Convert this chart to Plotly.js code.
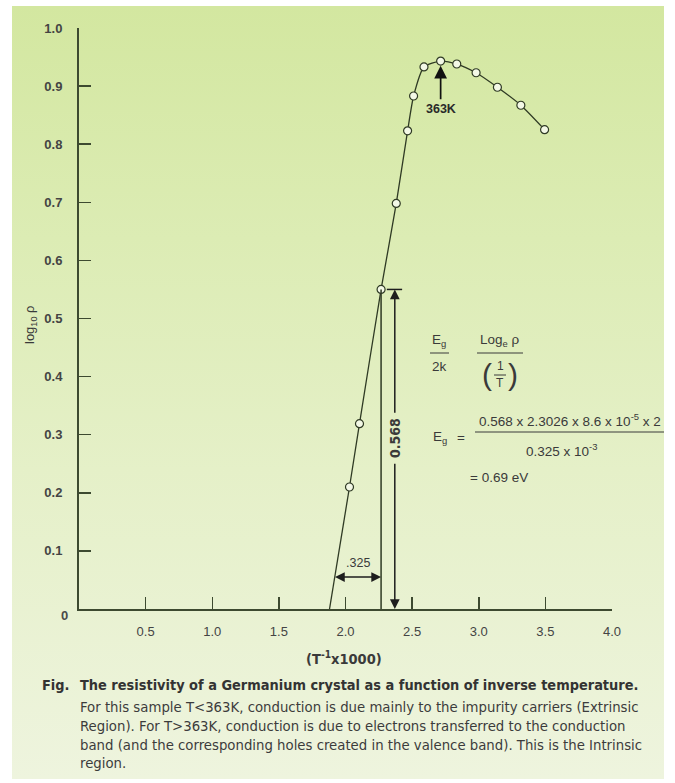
<!DOCTYPE html>
<html><head><meta charset="utf-8">
<script src="https://cdn.plot.ly/plotly-3.0.1.min.js"></script>
<style>
html,body{margin:0;padding:0;background:#fff;}
#wrap{position:relative;width:675px;height:783px;overflow:hidden;}
#bg{position:absolute;left:12px;top:6px;width:652px;height:773px;background:linear-gradient(to bottom,#d3e7a0 0%,#dcecb4 30%,#e5f0c8 60%,#eef4de 100%);}
#chart{position:absolute;left:0;top:0;width:675px;height:783px;}
#crop{position:absolute;left:664px;top:0;width:11px;height:783px;background:#fff;}
</style></head>
<body><div id="wrap"><div id="bg"></div><div id="chart"></div><div id="crop"></div></div>
<script>
// ---- data ----
const invT   = [2.03, 2.105, 2.267, 2.381, 2.466, 2.511, 2.589, 2.714, 2.835, 2.98, 3.14, 3.316, 3.494];
const logRho = [0.21, 0.319, 0.550, 0.698, 0.823, 0.883, 0.933, 0.943, 0.938, 0.923, 0.898, 0.867, 0.825];
const fitExtX = [1.88, 2.03];
const fitExtY = [0.0, 0.21];
const xTickVals = [0.5, 1.0, 1.5, 2.0, 2.5, 3.0, 3.5, 4.0];
const xTickText = ['0.5','1.0','1.5','2.0','2.5','3.0','3.5','4.0'];
const yTickVals = [0.1,0.2,0.3,0.4,0.5,0.6,0.7,0.8,0.9,1.0];
const yTickText = ['0.1','0.2','0.3','0.4','0.5','0.6','0.7','0.8','0.9','1.0'];
const runX = [1.91, 2.267];   const runY = 0.055; const runLabel = '.325';
const riseX = 2.37; const riseY = [0.0, 0.55]; const riseLabel = '0.568';
const dropX = 2.267;
const peakX = 2.714; const peakY = 0.935; const peakLabel = '363K';
const captionTitle = 'The resistivity of a Germanium crystal as a function of inverse temperature.';
const captionLines = [
  'For this sample T<363K, conduction is due mainly to the impurity carriers (Extrinsic',
  'Region). For T>363K, conduction is due to electrons transferred to the conduction',
  'band (and the corresponding holes created in the valence band). This is the Intrinsic',
  'region.'
];

// ---- font choice: a narrow face if installed, sized to the reference widths ----
const cv = document.createElement('canvas').getContext('2d');
function has(fam) {
  const s = 'mmmmmmmmmmlliWWQ0123';
  cv.font = '40px monospace'; const a = cv.measureText(s).width;
  cv.font = '40px "' + fam + '", monospace'; const b = cv.measureText(s).width;
  return Math.abs(a - b) > 0.5;
}
const narrow = ['Liberation Sans Narrow', 'Arial Narrow', 'DejaVu Sans Condensed'].find(has);
const F = 'Liberation Sans, Arial, sans-serif';
const FC = narrow ? ('"' + narrow + '", Liberation Sans, Arial, sans-serif') : F;
function fit(text, weight, target) {
  cv.font = weight + ' 100px ' + FC;
  const w = cv.measureText(text).width;
  return Math.max(11, Math.min(17, 100 * target / w));
}
const capBold = fit(captionTitle, 'bold', 559);
const capReg = fit(captionLines[0], 'normal', 559);

// ---- layout helpers (pixel -> paper) ----
const L = 79, R = 612, T = 28, B = 609;
const xp = px => (px - L) / (R - L);
const yp = py => (B - py) / (B - T);
const ink = '#2f3a24';
const txt = '#3a3a3a';

const traces = [
  {x: fitExtX, y: fitExtY, mode: 'lines', line: {color: ink, width: 1.3}, hoverinfo: 'skip', showlegend: false},
  {x: invT, y: logRho, mode: 'lines+markers',
   line: {color: ink, width: 1.3, shape: 'spline', smoothing: 0.6},
   marker: {symbol: 'circle', size: 8, color: '#f3f8e6', line: {color: ink, width: 1.2}},
   showlegend: false}
];

const ann = [];
function pt(text, x, y, o) {
  ann.push(Object.assign({text: text, xref: 'paper', yref: 'paper', x: xp(x), y: yp(y),
    showarrow: false, xanchor: 'center', yanchor: 'middle',
    font: {family: F, size: 13.5, color: txt}}, o || {}));
}
// vertical 0.568 double arrow with label gap
const arrowCommon = {xref: 'x', yref: 'y', axref: 'x', ayref: 'y', showarrow: true,
  arrowhead: 2, arrowsize: 1.3, arrowwidth: 1.5, arrowcolor: '#1e1e1e', standoff: 0,
  textangle: -90, borderpad: 5};
ann.push(Object.assign({}, arrowCommon, {text: '<b>' + riseLabel + '</b>', x: riseX, y: riseY[1], ax: riseX, ay: 0.294,
  font: {family: FC, size: 14, color: txt}}));
ann.push(Object.assign({}, arrowCommon, {text: '<b>' + riseLabel + '</b>', x: riseX, y: riseY[0], ax: riseX, ay: 0.294,
  font: {family: FC, size: 14, color: 'rgba(0,0,0,0)'}}));
// horizontal .325 double arrow
ann.push({text: '', xref: 'x', yref: 'y', axref: 'x', ayref: 'y', x: runX[1], y: runY, ax: runX[0], ay: runY,
  showarrow: true, arrowhead: 2, startarrowhead: 2, arrowside: 'end+start', arrowsize: 1.3, startarrowsize: 1.3,
  arrowwidth: 1.5, arrowcolor: '#1e1e1e', standoff: 0, startstandoff: 0});
ann.push({text: runLabel, xref: 'x', yref: 'y', x: (runX[0] + runX[1]) / 2 + 0.005, y: runY + 0.025, showarrow: false,
  font: {family: F, size: 12.5, color: txt}});
// 363K
ann.push({text: '<b>' + peakLabel + '</b>', xref: 'x', yref: 'y', axref: 'x', ayref: 'y', x: peakX, y: peakY,
  ax: peakX, ay: 0.861, showarrow: true, arrowhead: 2, arrowsize: 1.5, arrowwidth: 1.7, arrowcolor: '#111',
  standoff: 0, borderpad: 2, font: {family: F, size: 12.5, color: '#2a2a2a'}});

// origin label, axis titles
pt('<b>0</b>', 64, 615, {font: {family: F, size: 13, color: '#4a4a4a'}});
pt('log<sub>10</sub> ρ', 30, 325, {textangle: -90, font: {family: F, size: 13, color: txt}});
pt('<b>(T<sup>-1</sup>x1000)</b>', 344, 658, {font: {family: FC, size: 14.5, color: txt}});

// formula block
pt('E<sub>g</sub>', 439, 340);
pt('2k', 439, 366);
pt('Log<sub>e</sub> ρ', 500, 340);
pt('1', 500, 366, {font: {family: F, size: 12, color: txt}});
pt('T', 500, 383, {font: {family: F, size: 12, color: txt}});
pt('(', 487, 374, {font: {family: F, size: 30, color: txt}});
pt(')', 513, 374, {font: {family: F, size: 30, color: txt}});
pt('E<sub>g</sub>', 440, 437);
pt('=', 461, 437);
pt('0.568 x 2.3026 x 8.6 x 10<sup>-5</sup> x 2', 477, 420, {xanchor: 'left'});
pt('0.325 x 10<sup>-3</sup>', 561, 450);
pt('= 0.69 eV', 468, 477, {xanchor: 'left'});

// caption
pt('<b>Fig.</b>', 40, 685, {xanchor: 'left', font: {family: FC, size: capBold, color: '#333'}});
pt('<b>' + captionTitle + '</b>', 78, 685, {xanchor: 'left', font: {family: FC, size: capBold, color: '#333'}});
const capY = [707, 725, 744, 762];
captionLines.forEach((s, i) => pt(s, 78, capY[i], {xanchor: 'left', font: {family: FC, size: capReg, color: '#3c3c3c'}}));

const shapes = [
  {type: 'line', xref: 'x', yref: 'y', x0: dropX, x1: dropX, y0: 0, y1: riseY[1], line: {color: ink, width: 1.5}},
  {type: 'line', xref: 'x', yref: 'y', x0: riseX - 0.06, x1: riseX + 0.055, y0: riseY[1], y1: riseY[1], line: {color: '#1e1e1e', width: 1.5}},
  {type: 'line', xref: 'paper', yref: 'paper', x0: xp(430), x1: xp(449), y0: yp(353), y1: yp(353), line: {color: txt, width: 1}},
  {type: 'line', xref: 'paper', yref: 'paper', x0: xp(477), x1: xp(523), y0: yp(353), y1: yp(353), line: {color: txt, width: 1}},
  {type: 'line', xref: 'paper', yref: 'paper', x0: xp(494), x1: xp(506), y0: yp(375), y1: yp(375), line: {color: txt, width: 1}},
  {type: 'line', xref: 'paper', yref: 'paper', x0: xp(475), x1: xp(675), y0: yp(432), y1: yp(432), line: {color: txt, width: 1}}
];

const layout = {
  width: 675, height: 783,
  margin: {l: L, r: 675 - R, t: T, b: 783 - B, pad: 0},
  paper_bgcolor: 'rgba(0,0,0,0)', plot_bgcolor: 'rgba(0,0,0,0)',
  showlegend: false,
  xaxis: {range: [0, 4], showgrid: false, zeroline: false, showline: true, linecolor: '#3d4a30', linewidth: 2,
    ticks: 'inside', ticklen: 12, tickwidth: 1.5, tickcolor: '#3d4a30',
    tickvals: xTickVals, ticktext: xTickText, ticklabelstandoff: 9,
    tickfont: {family: F, size: 13, color: '#444'}},
  yaxis: {range: [0, 1], showgrid: false, zeroline: false, showline: true, linecolor: '#3d4a30', linewidth: 2,
    ticks: 'inside', ticklen: 12, tickwidth: 1.5, tickcolor: '#3d4a30',
    tickvals: yTickVals, ticktext: yTickText.map(s => '<b>' + s + '</b>'), ticklabelstandoff: 12,
    tickfont: {family: F, size: 13, color: '#444'}},
  annotations: ann,
  shapes: shapes
};
Plotly.newPlot('chart', traces, layout, {displayModeBar: false, staticPlot: true});
</script>
</body></html>
